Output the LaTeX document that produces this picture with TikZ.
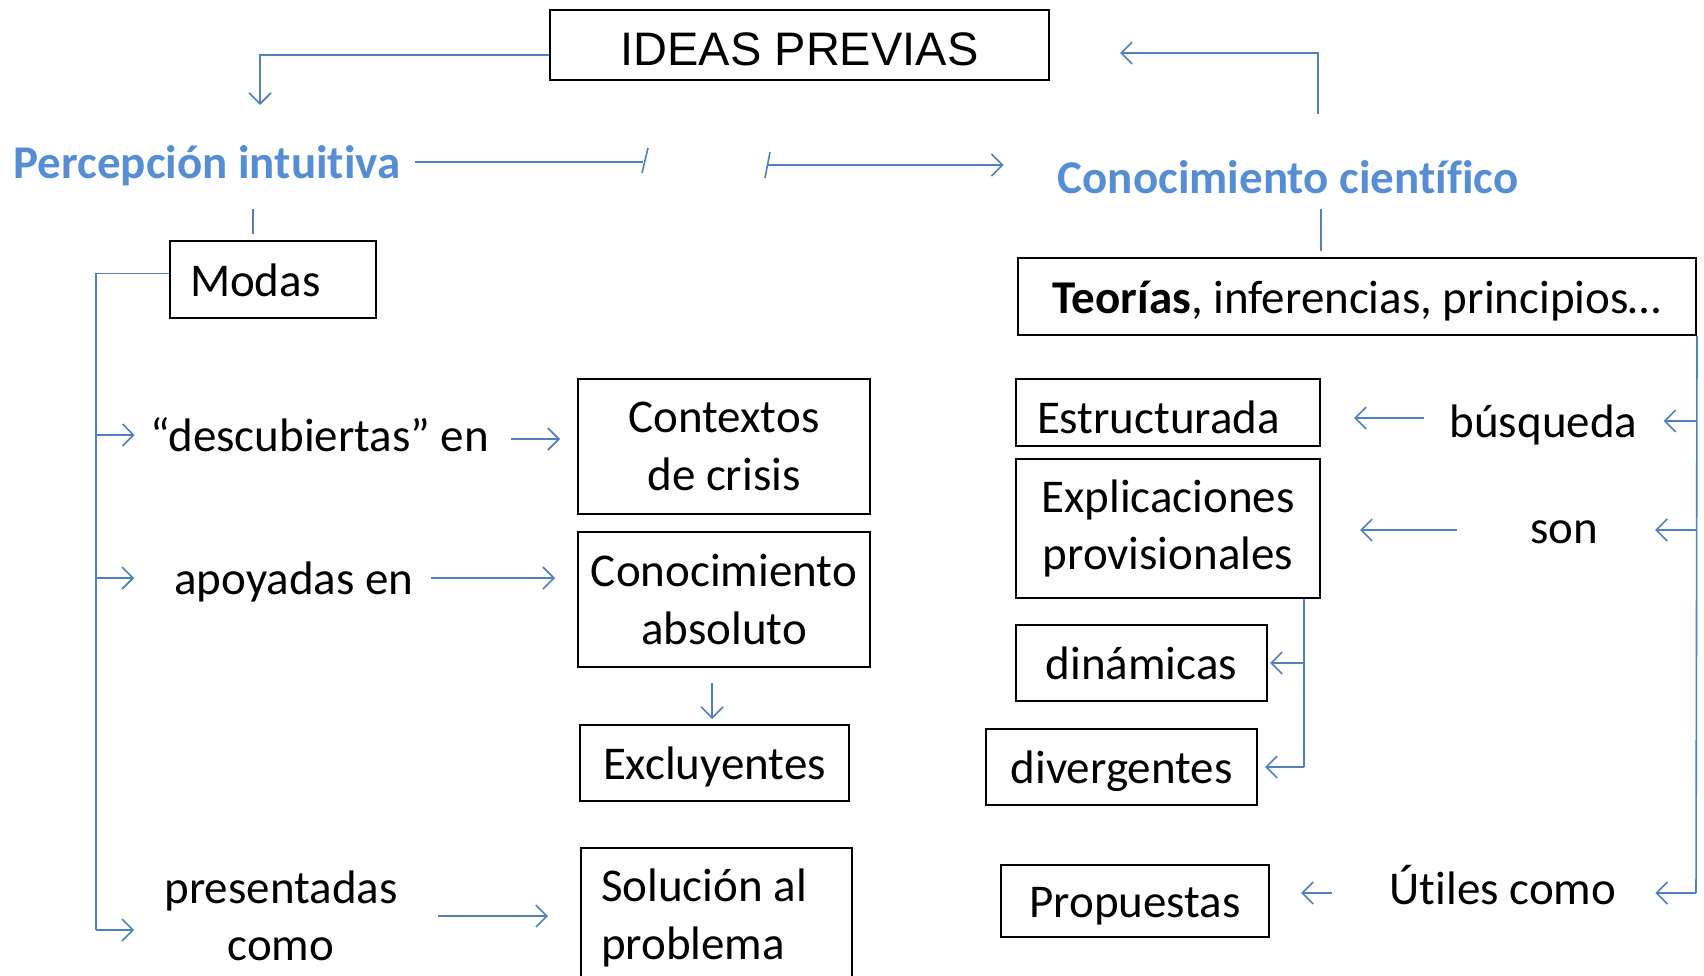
\documentclass[tikz,border=0pt]{standalone}
\usepackage{fontspec}
\setmainfont{Carlito}[Ligatures=CommonOff]
\newfontfamily\arialf{Liberation Sans}
\usetikzlibrary{arrows.meta}
\definecolor{tblue}{HTML}{558ED5}
\definecolor{lblue}{HTML}{4F81BD}
\begin{document}
\begin{tikzpicture}[x=1pt,y=-1pt,
  every node/.style={font=\fontsize{47}{57.5}\selectfont, inner sep=0pt},
  one/.style={text height=36.5pt, text depth=3.5pt},
  low/.style={text height=42pt, text depth=0pt},
  box/.style={draw=black, line width=2pt},
  conn/.style={draw=lblue, line width=1.6pt},
  arr/.style={conn, -{Straight Barb[length=11pt,width=22pt,line width=1.6pt]}},
  title/.style={text=tblue, font=\fontsize{47}{57.5}\selectfont\bfseries},
]
\clip (0,0) rectangle (1704,976);
\fill[white] (0,0) rectangle (1704,976);

% top
\node[box, text height=42pt, text depth=0pt, minimum width=499pt, minimum height=70pt] (ideas) at (799.5,45) {\arialf IDEAS PREVIAS};
\node[title, one] (perc) at (207,162) {Percepción intuitiva};
\node[title, one] (cc) at (1288,177) {Conocimiento científico};

\coordinate (pa) at (260,105);
\draw[arr] ([yshift=-10pt]ideas.west) -| (pa);
\coordinate (c1) at (1318,114);
\draw[arr] (c1) |- ([xshift=70pt,yshift=-8pt]ideas.east);

\coordinate (b1) at (643,162);
\coordinate (b2) at (767,165);
\draw[conn] ([xshift=14pt]perc.east) -- (b1);
\draw[conn] (642,173) -- (648,148);
\draw[conn] (765,178) -- (770,152);
\draw[arr, shorten >=54pt] (b2) -- (b2 -| cc.west);

% left column
\node[box, one, text width=166pt, align=flush left, inner xsep=20pt, minimum height=77pt] (modas) at (273,279.5) {Modas};
\node[one] (desc) at (320,435) {“descubiertas” en};
\node[box, align=center, minimum width=292pt, minimum height=135pt] (ctx) at (724,446.5) {Contextos\\de crisis};
\node[one] (apoy) at (294,578) {apoyadas en};
\node[box, align=center, minimum width=292pt, minimum height=135pt] (abs) at (724,599.5) {Conocimiento\\absoluto};
\node[box, one, minimum width=269pt, minimum height=76pt] (excl) at (714.5,763) {Excluyentes};
\node[align=center] (pres) at (281,916) {presentadas\\como};
\node[box, align=flush left, text width=231pt, inner xsep=20pt, minimum height=140pt] (sol) at (716.5,918) {Solución al\\problema};

\draw[conn] ([xshift=46pt,yshift=-27pt]perc.south) -- ([xshift=-20pt,yshift=6pt]modas.north);
\coordinate (lb) at (96,930);
\draw[conn] ([yshift=6pt]modas.west) -| (lb);
\draw[arr, shorten >=16pt] (desc.west -| lb) -- (desc.west);
\draw[arr, shorten >=40pt] (apoy.west -| lb) -- (apoy.west);
\draw[arr, shorten >=30pt] (lb) -- (lb -| pres.west);
\draw[arr, shorten <=22pt, shorten >=17pt] ([yshift=-4pt]desc.east) -- ([yshift=-4pt]desc.east -| ctx.west);
\draw[arr, shorten <=17pt, shorten >=22pt] (apoy.east) -- (apoy.east -| abs.west);
\draw[arr] ([xshift=-12pt,yshift=-15pt]abs.south) -- ([xshift=-2.5pt,yshift=5pt]excl.north);
\draw[arr, shorten <=40pt, shorten >=32pt] (pres.east) -- (pres.east -| sol.west);

% right column
\node[box, one, minimum width=678pt, minimum height=77pt] (teo) at (1357,296.5) {\textbf{Teorías}, inferencias, principios…};
\node[one] (busq) at (1543.5,421) {búsqueda};
\node[box, low, text width=262pt, align=flush left, inner xsep=21pt, minimum height=67pt] (estr) at (1168,412.5) {Estructurada};
\node[one] (son) at (1564,527) {son};
\node[box, align=center, minimum width=304pt, minimum height=139pt] (expl) at (1168,528.5) {Explicaciones\\provisionales};
\node[box, one, minimum width=251pt, minimum height=76pt] (din) at (1141.5,663) {dinámicas};
\node[box, one, minimum width=271pt, minimum height=76pt] (div) at (1121.5,767) {divergentes};
\node[box, one, minimum width=268pt, minimum height=72pt] (prop) at (1135,901) {Propuestas};
\node[one] (util) at (1503,888) {Útiles como};

\draw[conn] ([xshift=33pt,yshift=-12pt]cc.south) -- ([xshift=-36pt,yshift=6pt]teo.north);
\coordinate (rb) at (1696,893);
\draw[conn] (teo.south east) -- (rb);
\draw[arr, shorten >=26pt] (busq.east -| rb) -- (busq.east);
\draw[arr, shorten >=57pt] ([yshift=-3pt]son.east -| rb) -- ([yshift=-3pt]son.east);
\draw[arr, shorten >=39pt] (rb) -- (rb -| util.east);
\draw[arr, shorten <=25pt, shorten >=33pt] ([yshift=3pt]busq.west) -- ([yshift=3pt]busq.west -| estr.east);
\draw[arr, shorten <=73pt, shorten >=39pt] ([yshift=-3pt]son.west) -- ([yshift=-3pt]son.west -| expl.east);
\coordinate (ev) at ([xshift=-17pt]expl.south east);
\draw[conn] (ev) -- (ev |- div.east);
\draw[arr, shorten >=2pt] (ev |- din.east) -- (din.east);
\draw[arr, shorten >=7pt] (ev |- div.east) -- (div.east);
\draw[arr, shorten <=58pt, shorten >=31pt] ([yshift=-5pt]util.west) -- ([yshift=-5pt]util.west -| prop.east);
\end{tikzpicture}
\end{document}
